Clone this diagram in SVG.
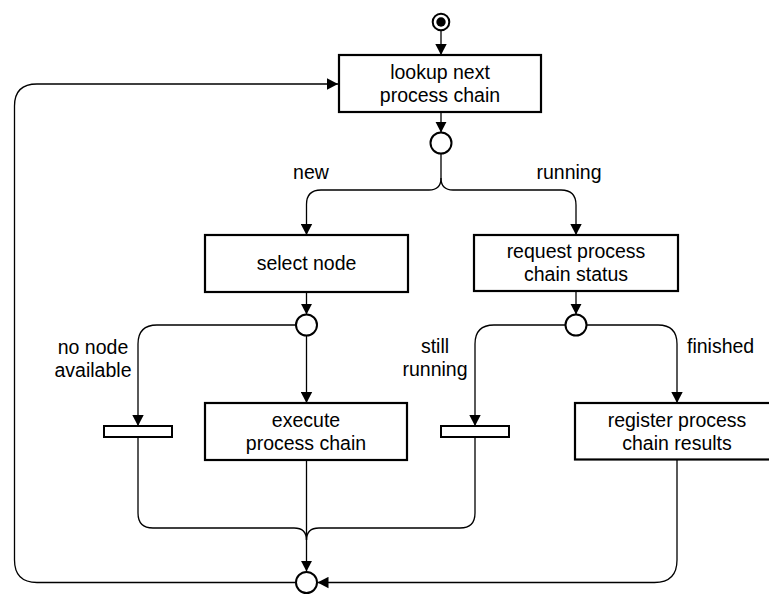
<svg xmlns="http://www.w3.org/2000/svg" width="769" height="594" viewBox="0 0 769 594">
<style>
.box{fill:#fff;stroke:#000;stroke-width:2.2}
.bar{fill:#fff;stroke:#000;stroke-width:2}
.dec{fill:#fff;stroke:#000;stroke-width:2}
.edge{fill:none;stroke:#000;stroke-width:1.3}
text{font-family:"Liberation Sans",Arial,sans-serif;font-size:19.5px;fill:#000}
.c{text-anchor:middle}
</style>
<defs>
<marker id="ah" markerUnits="userSpaceOnUse" markerWidth="12" markerHeight="12" viewBox="0 0 12 12" refX="11" refY="6" orient="auto">
<path d="M0,0.3 L11,6 L0,11.7 Z" fill="#000"/>
</marker>
</defs>
<rect width="769" height="594" fill="#fff"/>
<g id="connectors">
<path class="edge" d="M441,31 L441,55" marker-end="url(#ah)"/>
<path class="edge" d="M441,112 L441,132.5" marker-end="url(#ah)"/>
<path class="edge" d="M441,153.5 L441,178 Q441,190 429,190 L321,190 Q306.5,190 306.5,204.5 L306.5,235" marker-end="url(#ah)"/>
<path class="edge" d="M441,178 Q441,190 453,190 L561,190 Q576,190 576,205 L576,235" marker-end="url(#ah)"/>
<path class="edge" d="M306.5,292 L306.5,314.5" marker-end="url(#ah)"/>
<path class="edge" d="M576,291 L576,314.5" marker-end="url(#ah)"/>
<path class="edge" d="M296,325 L157,325 Q138,325 138,344 L138,426" marker-end="url(#ah)"/>
<path class="edge" d="M306.5,335.5 L306.5,403" marker-end="url(#ah)"/>
<path class="edge" d="M565.5,325 L494,325 Q475,325 475,344 L475,426" marker-end="url(#ah)"/>
<path class="edge" d="M586.5,325 L658,325 Q677,325 677,344 L677,403" marker-end="url(#ah)"/>
<path class="edge" d="M138,437 L138,513 Q138,528 153,528 L294,528 Q306.5,528 306.5,540"/>
<path class="edge" d="M475,437 L475,513 Q475,528 460,528 L319,528 Q306.5,528 306.5,540"/>
<path class="edge" d="M306.5,460 L306.5,571.5" marker-end="url(#ah)"/>
<path class="edge" d="M677,459.5 L677,560 Q677,582.5 654.5,582.5 L317.5,582.5" marker-end="url(#ah)"/>
<path class="edge" d="M295.5,582.5 L37,582.5 Q14.5,582.5 14.5,560 L14.5,106 Q14.5,84 37,84 L338,84" marker-end="url(#ah)"/>
</g>
<g id="labels">
<text class="c" x="311" y="179">new</text>
<text class="c" x="569" y="179">running</text>
<text class="c" x="93" y="354">no node</text>
<text class="c" x="93" y="377">available</text>
<text class="c" x="435" y="353">still</text>
<text class="c" x="435" y="376">running</text>
<text x="687" y="353">finished</text>
</g>
<g id="start">
<circle cx="441" cy="22" r="8.3" fill="#fff" stroke="#000" stroke-width="2"/>
<circle cx="441" cy="22" r="4.7" fill="#000"/>
</g>
<g id="lookup">
<rect class="box" x="339" y="55" width="202" height="57"/>
<text class="c" x="440" y="79">lookup next</text>
<text class="c" x="440" y="101.5">process chain</text>
</g>
<g id="decision1"><circle class="dec" cx="441" cy="143" r="10.5"/></g>
<g id="select">
<rect class="box" x="205" y="235" width="203" height="57"/>
<text class="c" x="306.5" y="270">select node</text>
</g>
<g id="request">
<rect class="box" x="474" y="235" width="204" height="56"/>
<text class="c" x="576" y="258">request process</text>
<text class="c" x="576" y="280.5">chain status</text>
</g>
<g id="decision2"><circle class="dec" cx="306.5" cy="325" r="10.5"/></g>
<g id="decision3"><circle class="dec" cx="576" cy="325" r="10.5"/></g>
<g id="waitbar1"><rect class="bar" x="104" y="426" width="68" height="11"/></g>
<g id="waitbar2"><rect class="bar" x="441" y="426" width="68" height="11"/></g>
<g id="execute">
<rect class="box" x="205" y="403" width="202" height="57"/>
<text class="c" x="306" y="427">execute</text>
<text class="c" x="306" y="449.5">process chain</text>
</g>
<g id="register">
<rect class="box" x="575" y="403" width="204" height="56.5"/>
<text class="c" x="677" y="426.5">register process</text>
<text class="c" x="677" y="449.5">chain results</text>
</g>
<g id="merge"><circle class="dec" cx="306.5" cy="582.5" r="10.5"/></g>
</svg>
